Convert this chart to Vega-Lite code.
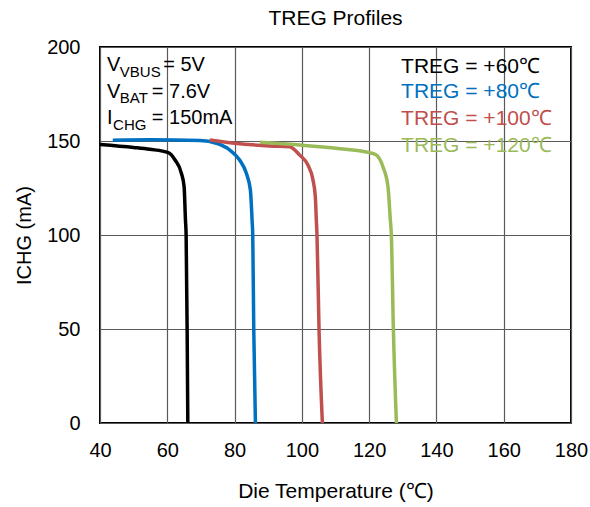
{
  "$schema": "https://vega.github.io/schema/vega-lite/v6.json",
  "width": 471,
  "height": 376,
  "autosize": {"type": "none"},
  "padding": {"left": 100, "top": 47, "right": 19, "bottom": 84},
  "background": "white",
  "config": {
    "font": "Liberation Sans",
    "view": {"stroke": "black", "strokeWidth": 2},
    "axis": {"labelFontSize": 20, "titleFontSize": 20, "labelColor": "black", "titleColor": "black", "titleFontWeight": "normal", "ticks": false, "domain": false, "gridColor": "#5a5a5a", "gridWidth": 1.2, "gridOpacity": 1, "labelFlush": false}
  },
  "title": {"text": "TREG Profiles", "fontSize": 21, "fontWeight": "normal", "anchor": "middle", "offset": 8, "color": "black"},
  "datasets": {
    "curves": [
      {"series": "60", "t": 40, "i": 148.2}, {"series": "60", "t": 50, "i": 146.6}, {"series": "60", "t": 54.8, "i": 145.6}, {"series": "60", "t": 60.3, "i": 143.8}, {"series": "60", "t": 62.3, "i": 139.9}, {"series": "60", "t": 64.2, "i": 132.8}, {"series": "60", "t": 65.0, "i": 125.7}, {"series": "60", "t": 65.4, "i": 108}, {"series": "60", "t": 65.6, "i": 100}, {"series": "60", "t": 65.9, "i": 50}, {"series": "60", "t": 66.1, "i": 0},
      {"series": "80", "t": 43.8, "i": 150.4}, {"series": "80", "t": 55, "i": 150.6}, {"series": "80", "t": 69.7, "i": 150.2}, {"series": "80", "t": 74.6, "i": 148.8}, {"series": "80", "t": 78.6, "i": 145.2}, {"series": "80", "t": 81.5, "i": 139.9}, {"series": "80", "t": 83.5, "i": 132.8}, {"series": "80", "t": 84.7, "i": 123.9}, {"series": "80", "t": 85.2, "i": 108}, {"series": "80", "t": 85.4, "i": 100}, {"series": "80", "t": 85.7, "i": 50}, {"series": "80", "t": 86.2, "i": 0},
      {"series": "100", "t": 72.6, "i": 150.5}, {"series": "100", "t": 80, "i": 148.8}, {"series": "100", "t": 90.4, "i": 147.4}, {"series": "100", "t": 96.4, "i": 147.0}, {"series": "100", "t": 99.3, "i": 142.6}, {"series": "100", "t": 101.8, "i": 137.2}, {"series": "100", "t": 103.3, "i": 129.3}, {"series": "100", "t": 104.0, "i": 120.4}, {"series": "100", "t": 104.3, "i": 108}, {"series": "100", "t": 104.5, "i": 100}, {"series": "100", "t": 105.1, "i": 50}, {"series": "100", "t": 106.1, "i": 0},
      {"series": "120", "t": 87.5, "i": 149.3}, {"series": "120", "t": 99.3, "i": 147.9}, {"series": "120", "t": 110.2, "i": 146.1}, {"series": "120", "t": 120.1, "i": 143.8}, {"series": "120", "t": 122.1, "i": 142.6}, {"series": "120", "t": 124.1, "i": 136.3}, {"series": "120", "t": 125.6, "i": 125.7}, {"series": "120", "t": 126.3, "i": 108}, {"series": "120", "t": 126.6, "i": 100}, {"series": "120", "t": 127.2, "i": 50}, {"series": "120", "t": 128.1, "i": 0}
    ],
    "legend": [
      {"series": "60", "label": "TREG = +60℃", "t": 129.5, "i": 186.4},
      {"series": "80", "label": "TREG = +80℃", "t": 129.5, "i": 172.7},
      {"series": "100", "label": "TREG = +100℃", "t": 129.5, "i": 158.5},
      {"series": "120", "label": "TREG = +120℃", "t": 129.5, "i": 144.3}
    ],
    "annotMain": [
      {"label": "V", "t": 42.1, "i": 187.4}, {"label": "= 5V", "t": 58.8, "i": 187.4},
      {"label": "V", "t": 42.1, "i": 173.0}, {"label": "= 7.6V", "t": 55.4, "i": 173.0},
      {"label": "I", "t": 42.1, "i": 159.0}, {"label": "= 150mA", "t": 55.4, "i": 159.0}
    ],
    "annotSub": [
      {"label": "VBUS", "t": 45.9, "i": 184.2},
      {"label": "BAT", "t": 45.9, "i": 170.1},
      {"label": "CHG", "t": 43.9, "i": 155.9}
    ]
  },
  "layer": [
    {
      "data": {"name": "curves"},
      "mark": {"type": "line", "strokeWidth": 3.5, "interpolate": "monotone", "clip": true},
      "encoding": {
        "x": {"field": "t", "type": "quantitative", "scale": {"domain": [40, 180], "nice": false}, "axis": {"values": [40, 60, 80, 100, 120, 140, 160, 180], "title": "Die Temperature (℃)", "titleFontSize": 21, "labelPadding": 17, "titlePadding": 20, "grid": true}},
        "y": {"field": "i", "type": "quantitative", "scale": {"domain": [0, 200], "nice": false}, "axis": {"values": [0, 50, 100, 150, 200], "title": "ICHG (mA)", "labelPadding": 20, "titlePadding": 12, "grid": true}},
        "color": {"field": "series", "type": "nominal", "scale": {"domain": ["60", "80", "100", "120"], "range": ["#000000", "#0070C0", "#C0504D", "#9BBB59"]}, "legend": null},
        "detail": {"field": "series"},
        "order": {"field": "t", "type": "quantitative"}
      }
    },
    {
      "data": {"name": "legend"},
      "mark": {"type": "text", "align": "left", "baseline": "alphabetic", "fontSize": 21},
      "encoding": {
        "x": {"field": "t", "type": "quantitative"},
        "y": {"field": "i", "type": "quantitative"},
        "text": {"field": "label"},
        "color": {"field": "series", "type": "nominal", "legend": null}
      }
    },
    {
      "data": {"name": "annotMain"},
      "mark": {"type": "text", "align": "left", "baseline": "alphabetic", "fontSize": 20, "color": "black"},
      "encoding": {
        "x": {"field": "t", "type": "quantitative"},
        "y": {"field": "i", "type": "quantitative"},
        "text": {"field": "label"}
      }
    },
    {
      "data": {"name": "annotSub"},
      "mark": {"type": "text", "align": "left", "baseline": "alphabetic", "fontSize": 15, "color": "black"},
      "encoding": {
        "x": {"field": "t", "type": "quantitative"},
        "y": {"field": "i", "type": "quantitative"},
        "text": {"field": "label"}
      }
    }
  ]
}
